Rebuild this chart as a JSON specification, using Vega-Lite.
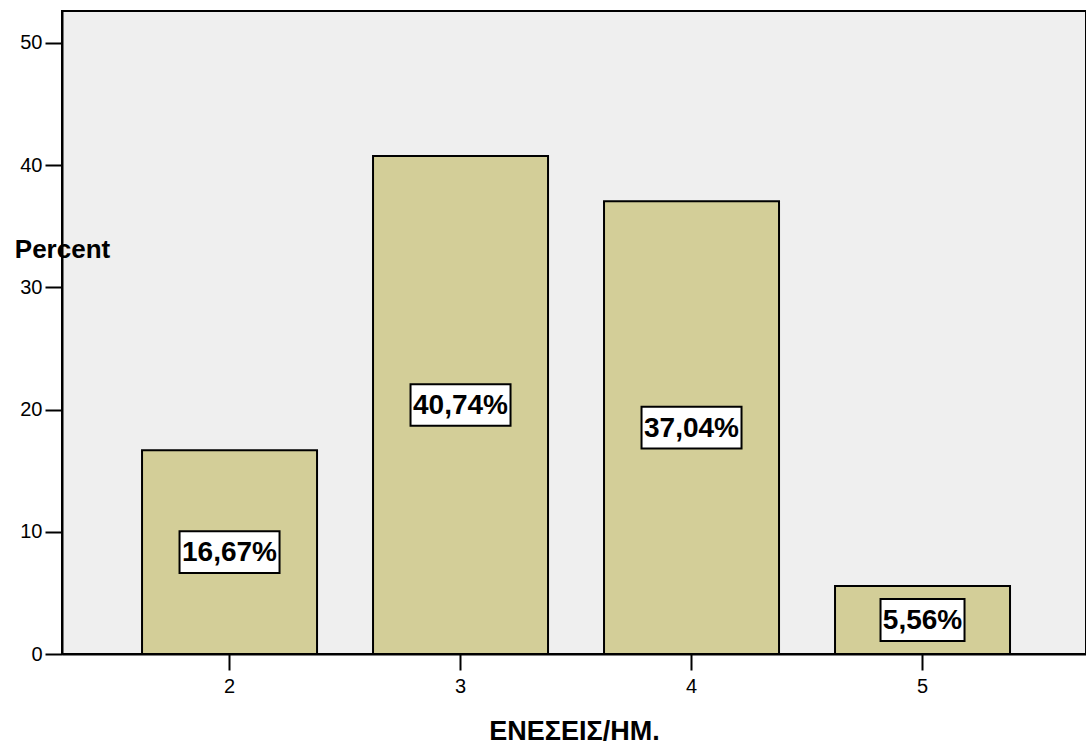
{
  "$schema": "https://vega.github.io/schema/vega-lite/v6.json",
  "autosize": {"type": "none"},
  "padding": {"left": 62, "top": 11, "right": 0, "bottom": 92},
  "width": 1024,
  "height": 643,
  "background": "white",
  "config": {
    "font": "Liberation Sans",
    "view": {"fill": "#efefef", "stroke": "black", "strokeWidth": 2},
    "axis": {
      "domainColor": "black",
      "domainWidth": 2,
      "tickColor": "black",
      "tickWidth": 2,
      "labelColor": "black",
      "labelFont": "Liberation Sans",
      "labelFontSize": 20,
      "titleFont": "Liberation Sans",
      "titleColor": "black",
      "titleFontWeight": "bold",
      "titleFontSize": 26,
      "grid": false
    }
  },
  "data": {
    "values": [
      {"injections": "2", "pct": 16.67},
      {"injections": "3", "pct": 40.74},
      {"injections": "4", "pct": 37.04},
      {"injections": "5", "pct": 5.56}
    ]
  },
  "transform": [
    {"calculate": "datum.pct / 2", "as": "mid"},
    {"calculate": "replace(format(datum.pct, '.2f'), '.', ',') + '%'", "as": "label"}
  ],
  "encoding": {
    "x": {
      "field": "injections",
      "type": "ordinal",
      "scale": {"paddingInner": 0.2424, "paddingOuter": 0.3377, "align": 0.513},
      "axis": {
        "title": "ΕΝΕΣΕΙΣ/ΗΜ.",
        "titleFontSize": 27,
        "labelAngle": 0,
        "tickSize": 16,
        "labelPadding": 6,
        "titlePadding": 22
      }
    }
  },
  "layer": [
    {
      "mark": {"type": "bar", "fill": "#d3ce98", "stroke": "black", "strokeWidth": 2},
      "encoding": {
        "y": {
          "field": "pct",
          "type": "quantitative",
          "scale": {"domain": [0, 52.6], "nice": false, "zero": true},
          "axis": {
            "title": "Percent",
            "values": [0, 10, 20, 30, 40, 50],
            "tickSize": 17,
            "labelPadding": 3,
            "titleAngle": 0,
            "titleX": 0,
            "titleY": 246,
            "titleAlign": "center",
            "titleBaseline": "alphabetic"
          }
        }
      }
    },
    {
      "transform": [{"filter": "datum.pct >= 10"}],
      "mark": {
        "type": "point",
        "shape": "M-1,-0.416H1V0.416H-1Z",
        "size": 10000,
        "filled": true,
        "fill": "white",
        "stroke": "black",
        "strokeWidth": 2,
        "opacity": 1
      },
      "encoding": {"y": {"field": "mid", "type": "quantitative"}}
    },
    {
      "transform": [{"filter": "datum.pct < 10"}],
      "mark": {
        "type": "point",
        "shape": "M-1,-0.5H1V0.5H-1Z",
        "size": 7056,
        "filled": true,
        "fill": "white",
        "stroke": "black",
        "strokeWidth": 2,
        "opacity": 1
      },
      "encoding": {"y": {"field": "mid", "type": "quantitative"}}
    },
    {
      "mark": {
        "type": "text",
        "font": "Liberation Sans",
        "fontSize": 28,
        "fontWeight": "bold",
        "color": "black",
        "align": "center",
        "baseline": "middle",
        "dy": 1
      },
      "encoding": {
        "y": {"field": "mid", "type": "quantitative"},
        "text": {"field": "label"}
      }
    }
  ]
}
